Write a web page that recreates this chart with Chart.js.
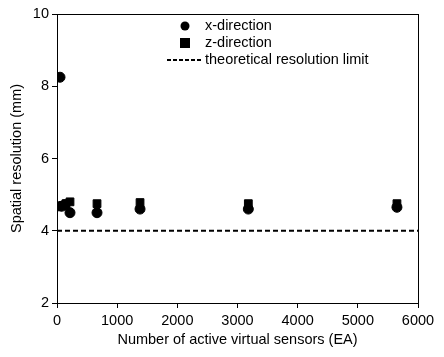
<!DOCTYPE html>
<html>
<head>
<meta charset="utf-8">
<script src="https://cdn.jsdelivr.net/npm/chart.js@4/dist/chart.umd.min.js"></script>
<style>
  body { margin: 0; background: #fff; }
  canvas { display: block; }
</style>
</head>
<body>
<canvas id="chart" width="444" height="357"></canvas>
<script>
// datos
const xSensors = [50, 80, 130, 216, 665, 1380, 3180, 5650];
const xRes = [8.25, 4.68, 4.72, 4.5, 4.5, 4.6, 4.6, 4.65];
const zSensors = [20, 90, 150, 216, 665, 1380, 3180, 5650];
const zRes = [4.66, 4.7, 4.75, 4.8, 4.75, 4.78, 4.75, 4.75];
const limitX = [0, 6000];
const limitY = [4, 4];
const xTicks = [0, 1000, 2000, 3000, 4000, 5000, 6000];
const yTicks = [2, 4, 6, 8, 10];

const font = "'Liberation Sans', Arial, sans-serif";

function toPoints(xs, ys) {
    return xs.map((x, i) => ({ x: x, y: ys[i] }));
}

// marco y leyenda dentro del area
const boxPlugin = {
    id: 'box',
    afterDraw(chart) {
        const a = chart.chartArea;
        const c = chart.ctx;
        c.save();
        c.strokeStyle = '#000';
        c.lineWidth = 1;
        c.strokeRect(a.left + 0.5, a.top + 0.5, a.right - a.left, a.bottom - a.top);

        c.fillStyle = '#000';
        c.font = '14.5px ' + font;
        c.textBaseline = 'middle';
        const tx = 205;
        // x-direction
        c.beginPath();
        c.arc(185, 26, 4.5, 0, Math.PI * 2);
        c.fill();
        c.fillText('x-direction', tx, 26);
        // z-direction
        c.fillRect(180, 38, 10, 10);
        c.fillText('z-direction', tx, 43);
        // limite
        c.setLineDash([4, 2]);
        c.lineWidth = 2;
        c.beginPath();
        c.moveTo(167, 60);
        c.lineTo(203, 60);
        c.stroke();
        c.setLineDash([]);
        c.fillText('theoretical resolution limit', tx, 60);
        c.restore();
    }
};

new Chart(document.getElementById('chart').getContext('2d'), {
    type: 'scatter',
    data: {
        datasets: [{
            label: 'x-direction',
            data: toPoints(xSensors, xRes),
            pointStyle: 'circle',
            pointRadius: 5,
            backgroundColor: '#000',
            borderColor: '#000'
        }, {
            label: 'z-direction',
            data: toPoints(zSensors, zRes),
            pointStyle: 'rect',
            pointRadius: 5.5,
            backgroundColor: '#000',
            borderColor: '#000'
        }, {
            type: 'line',
            label: 'theoretical resolution limit',
            data: toPoints(limitX, limitY),
            borderColor: '#000',
            borderWidth: 2,
            borderDash: [5, 3],
            pointRadius: 0,
            fill: false
        }]
    },
    options: {
        responsive: false,
        animation: false,
        layout: { padding: { top: 14, right: 26, left: 8, bottom: 8 } },
        plugins: {
            legend: { display: false },
            tooltip: { enabled: false }
        },
        scales: {
            x: {
                type: 'linear',
                min: 0,
                max: 6000,
                afterBuildTicks: axis => { axis.ticks = xTicks.map(v => ({ value: v })); },
                afterFit: axis => { axis.height = 46; },
                grid: { drawOnChartArea: false, drawTicks: true, tickLength: 5, color: '#000' },
                border: { color: '#000' },
                ticks: { color: '#000', font: { family: font, size: 14.5 }, padding: 4, maxRotation: 0, callback: v => String(v) },
                title: { display: true, text: 'Number of active virtual sensors (EA)', color: '#000', font: { family: font, size: 14.5 }, padding: { top: 0, bottom: 0 } }
            },
            y: {
                type: 'linear',
                min: 2,
                max: 10,
                afterBuildTicks: axis => { axis.ticks = yTicks.map(v => ({ value: v })); },
                afterFit: axis => { axis.width = 49; },
                grid: { drawOnChartArea: false, drawTicks: true, tickLength: 5, color: '#000' },
                border: { color: '#000' },
                ticks: { color: '#000', font: { family: font, size: 14.5 }, padding: 3, callback: v => String(v) },
                title: { display: true, text: 'Spatial resolution (mm)', color: '#000', font: { family: font, size: 14.5 }, padding: { top: 0, bottom: 2 } }
            }
        }
    },
    plugins: [boxPlugin]
});
</script>
</body>
</html>
